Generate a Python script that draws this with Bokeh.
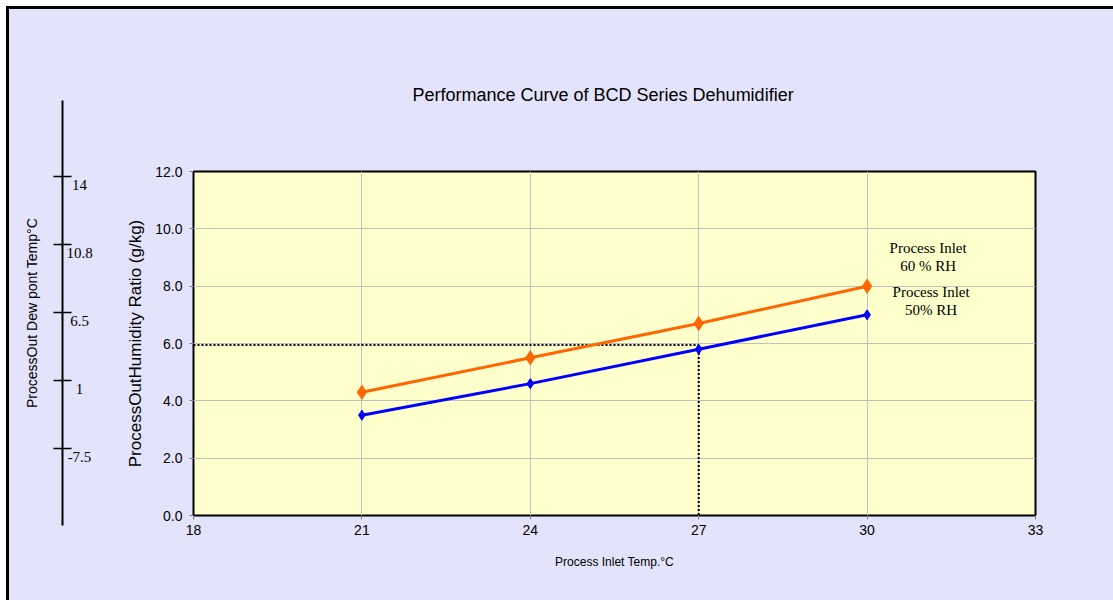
from bokeh.plotting import figure
from bokeh.models import Range1d, FixedTicker, LinearAxis, ColumnDataSource, LabelSet, PrintfTickFormatter
from bokeh.layouts import row
from bokeh.embed import file_html
from bokeh.resources import INLINE
from bokeh.core.properties import value

# ---------------- data ----------------
inlet_temp = [21, 24, 27, 30]
ratio_60rh = [4.3, 5.5, 6.7, 8.0]
ratio_50rh = [3.5, 4.6, 5.8, 7.0]
x_ticks = [18, 21, 24, 27, 30, 33]
y_ticks = [0, 2, 4, 6, 8, 10, 12]
dew_tick_ratio = [10, 8, 6, 4, 2]
dew_tick_labels = ["14", "10.8", "6.5", "1", "-7.5"]
guide_temp = 27
guide_ratio = 5.95
series_labels = ["Process Inlet\n60 % RH", "Process Inlet\n50% RH"]

BG = "#E3E3FB"
PLOT_BG = "#FFFFCC"
SANS = "Liberation Sans"
SERIF = "Liberation Serif"
ORANGE = "#FF6600"
BLUE = "#0000FF"

# ---------------- dew point scale (left) ----------------
dew = figure(frame_width=48, frame_height=425,
             min_border_left=53, min_border_right=0, min_border_top=91, min_border_bottom=75,
             x_range=Range1d(0, 1), y_range=Range1d(-0.27, 12.23),
             x_axis_location=None, y_axis_location=None,
             output_backend="svg", toolbar_location=None)
dew.frame_align = False
dew.background_fill_color = BG
dew.border_fill_color = BG
dew.outline_line_color = None
dew.xgrid.visible = False
dew.ygrid.visible = False

dew_axis = LinearAxis(ticker=FixedTicker(ticks=dew_tick_ratio),
                      axis_label="ProcessOut Dew pont Temp°C")
dew_axis.axis_line_color = "black"
dew_axis.axis_line_width = 2
dew_axis.major_tick_line_color = "black"
dew_axis.major_tick_line_width = 1.5
dew_axis.major_tick_in = 9
dew_axis.major_tick_out = 9
dew_axis.minor_tick_line_color = None
dew_axis.major_label_text_font_size = "11px"
dew_axis.major_label_text_color = None
dew_axis.major_label_standoff = 0
dew_axis.axis_label_standoff = 14
dew_axis.axis_label_text_font = SANS
dew_axis.axis_label_text_font_size = "14px"
dew_axis.axis_label_text_font_style = "normal"
dew_axis.axis_label_text_color = "black"
dew.add_layout(dew_axis, "left")

dew_src = ColumnDataSource(dict(x=[dew.x_range.start] * len(dew_tick_ratio),
                                y=dew_tick_ratio, t=dew_tick_labels))
dew.add_layout(LabelSet(x="x", y="y", text="t", source=dew_src,
                        x_offset=17, y_offset=-9,
                        text_align="center", text_baseline="middle",
                        text_font=value(SERIF), text_font_size="15px", text_color="black"))

# ---------------- main chart ----------------
p = figure(frame_width=842, frame_height=344,
           min_border_left=83, min_border_right=78, min_border_top=162, min_border_bottom=85,
           x_range=Range1d(18, 33), y_range=Range1d(0, 12),
           title="Performance Curve of BCD Series Dehumidifier",
           output_backend="svg", toolbar_location=None)
p.frame_align = False
p.background_fill_color = PLOT_BG
p.border_fill_color = BG
p.outline_line_color = "black"
p.outline_line_width = 2

p.title.align = "left"
p.title.offset = 219
p.title.standoff = 133
p.title.text_font = SANS
p.title.text_font_size = "18px"
p.title.text_font_style = "normal"
p.title.text_color = "black"

p.xaxis.ticker = FixedTicker(ticks=x_ticks)
p.yaxis.ticker = FixedTicker(ticks=y_ticks)
p.yaxis.formatter = PrintfTickFormatter(format="%.1f")
for ax in (p.xaxis, p.yaxis):
    ax.axis_line_color = None
    ax.major_tick_line_color = "#808080"
    ax.major_tick_in = 0
    ax.major_tick_out = 4
    ax.minor_tick_line_color = None
    ax.major_label_text_font = SANS
    ax.major_label_text_font_size = "14px"
    ax.major_label_text_color = "black"
    ax.axis_label_text_font = SANS
    ax.axis_label_text_font_style = "normal"
    ax.axis_label_text_color = "black"
p.xaxis.major_label_standoff = 5
p.yaxis.major_label_standoff = 7
p.xaxis.axis_label = "Process Inlet Temp.°C"
p.xaxis.axis_label_text_font_size = "12px"
p.xaxis.axis_label_standoff = 17
p.yaxis.axis_label = "ProcessOutHumidity Ratio (g/kg)"
p.yaxis.axis_label_text_font_size = "17px"
p.yaxis.axis_label_standoff = 7

p.xgrid.grid_line_color = "#C0C0C0"
p.ygrid.grid_line_color = "#C0C0C0"
p.xgrid.grid_line_width = 1
p.ygrid.grid_line_width = 1

# dotted guide lines
p.line([p.x_range.start, guide_temp], [guide_ratio, guide_ratio],
       line_color="black", line_width=2, line_dash="2 2")
p.line([guide_temp, guide_temp], [guide_ratio, p.y_range.start],
       line_color="black", line_width=2, line_dash="2 2")

# series
p.line(inlet_temp, ratio_60rh, line_color=ORANGE, line_width=3)
p.scatter(inlet_temp, ratio_60rh, marker="diamond", size=14, color=ORANGE)
p.line(inlet_temp, ratio_50rh, line_color=BLUE, line_width=3)
p.scatter(inlet_temp, ratio_50rh, marker="diamond", size=10, color=BLUE)

# series labels next to last points
p.text(x=[inlet_temp[-1]], y=[ratio_60rh[-1]], text=[series_labels[0]],
       x_offset=61, y_offset=-29, text_align="center", text_baseline="middle",
       text_font=value(SERIF), text_font_size="15px", text_color="black",
       text_line_height=1.15)
p.text(x=[inlet_temp[-1]], y=[ratio_50rh[-1]], text=[series_labels[1]],
       x_offset=64, y_offset=-14, text_align="center", text_baseline="middle",
       text_font=value(SERIF), text_font_size="15px", text_color="black",
       text_line_height=1.15)

layout = row(dew, p, spacing=0, margin=(6, 0, 0, 6),
             styles={"border-left": "3px solid black", "border-top": "3px solid black",
                     "background-color": BG})

open("out.html", "w").write(file_html(layout, INLINE))
